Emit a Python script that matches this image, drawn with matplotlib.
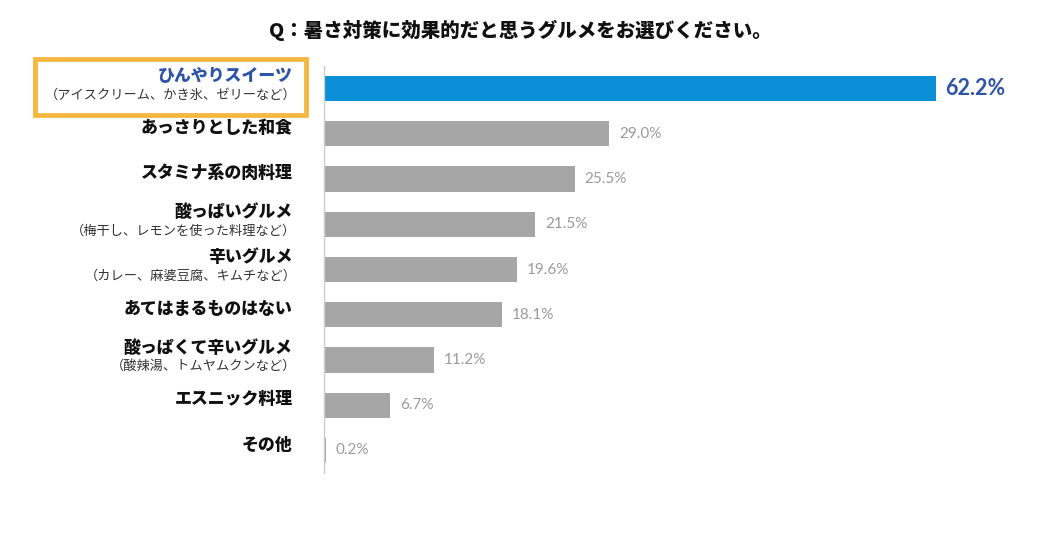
import matplotlib.pyplot as plt
from matplotlib.patches import Rectangle

plt.rcParams['font.family'] = ['Noto Sans CJK JP', 'DejaVu Sans']

title = "Q：暑さ対策に効果的だと思うグルメをお選びください。"
labels = ["ひんやりスイーツ", "あっさりとした和食", "スタミナ系の肉料理", "酸っぱいグルメ",
          "辛いグルメ", "あてはまるものはない", "酸っぱくて辛いグルメ", "エスニック料理", "その他"]
sublabels = ["（アイスクリーム、かき氷、ゼリーなど）", "", "", "（梅干し、レモンを使った料理など）",
             "（カレー、麻婆豆腐、キムチなど）", "", "（酸辣湯、トムヤムクンなど）", "", ""]
values = [62.2, 29.0, 25.5, 21.5, 19.6, 18.1, 11.2, 6.7, 0.2]

W, H = 1044, 533
fig = plt.figure(figsize=(W / 100, H / 100), dpi=100)
ax = fig.add_axes([324 / W, 1 - 473 / H, 1 - 324 / W, (473 - 66) / H])

y = list(range(len(values)))
colors = ["#0a8fd6"] + ["#a6a6a6"] * (len(values) - 1)
ax.barh(y, values, height=0.56, color=colors)
ax.set_xlim(0, 73.2)
ax.set_ylim(8.5, -0.5)
for s in ["top", "right", "bottom"]:
    ax.spines[s].set_visible(False)
ax.spines["left"].set_color("#cccccc")
ax.spines["left"].set_linewidth(1)
ax.set_xticks([])
ax.set_yticks([])

for i, v in enumerate(values):
    if i == 0:
        ax.text(v + 0.9, i, f"{v:.1f}%", va="center", ha="left",
                fontsize=15.5, fontweight="bold", color="#2e55a5", family=["Lato", "DejaVu Sans"])
    else:
        ax.text(v + 1.0, i, f"{v:.1f}%", va="center", ha="left",
                fontsize=11, color="#9a9a9a", family=["Lato", "DejaVu Sans"])

label_x = -3.2
for i, (lab, sub) in enumerate(zip(labels, sublabels)):
    col = "#2e55a5" if i == 0 else "#111111"
    if sub:
        ax.text(label_x, i - 0.27, lab, ha="right", va="center", fontsize=12.2,
                fontweight="heavy", color=col)
        ax.text(label_x + 0.4, i + 0.15, sub, ha="right", va="center", fontsize=9.5,
                color="#333333")
    else:
        ax.text(label_x, i - 0.13, lab, ha="right", va="center", fontsize=12.2,
                fontweight="heavy", color=col)

fig.text(520 / W, 1 - 30 / H, title, ha="center", va="center", fontsize=14,
         fontweight="heavy", color="#111111")

fig.patches.append(Rectangle((35 / W, 1 - 115 / H), 271 / W, 56 / H, transform=fig.transFigure,
                             fill=False, edgecolor="#f5b942", linewidth=3.5))

fig.savefig("out.png", dpi=100)
